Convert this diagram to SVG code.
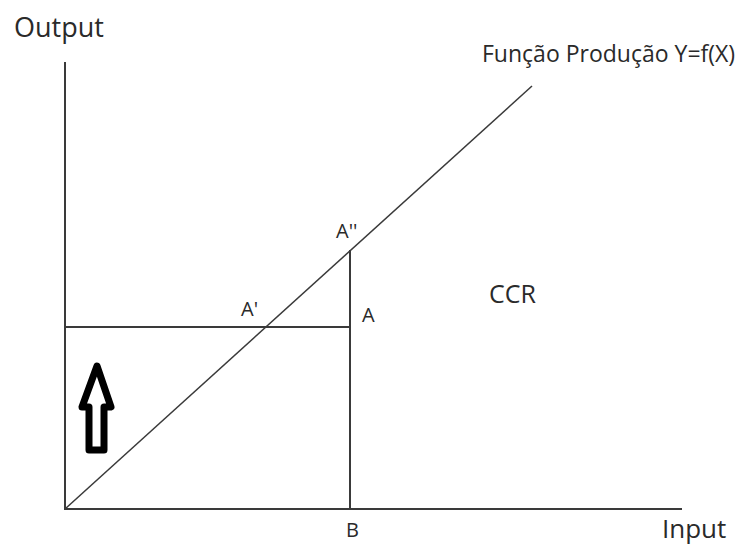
<svg xmlns="http://www.w3.org/2000/svg" width="744" height="545" viewBox="0 0 744 545">
<style>
.ln{stroke:#3a3a3a;stroke-width:2;fill:none}
.dg{stroke:#3a3a3a;stroke-width:1.5;fill:none}
.t{font-family:"Open Sans","Noto Sans",sans-serif;fill:#2a2a2a}
</style>
<rect width="744" height="545" fill="#fff"/>
<g id="connectors">
<line class="ln" x1="65" y1="62" x2="65" y2="510"/>
<line class="ln" x1="64" y1="509" x2="682" y2="509"/>
<line class="dg" x1="65" y1="509" x2="532" y2="86"/>
<line class="ln" x1="65" y1="327" x2="350" y2="327"/>
<line class="ln" x1="350" y1="250" x2="350" y2="509"/>
</g>
<g id="arrow">
<polygon points="97,366 111,407 104,407 104,450 89,450 89,407 82,407" fill="#fff" stroke="#000" stroke-width="7" stroke-linejoin="round"/>
</g>
<g id="label-output"><text class="t" x="14" y="37" font-size="27">Output</text></g>
<g id="label-input"><text class="t" x="662" y="538" font-size="26">Input</text></g>
<g id="label-funcao"><text class="t" x="482" y="62" font-size="23">Função Produção Y=f(X)</text></g>
<g id="label-A2"><text class="t" x="336" y="238" font-size="20">A''</text></g>
<g id="label-A1"><text class="t" x="241" y="316" font-size="20">A'</text></g>
<g id="label-A"><text class="t" x="362" y="322" font-size="20">A</text></g>
<g id="label-CCR"><text class="t" x="489" y="303" font-size="25">CCR</text></g>
<g id="label-B"><text class="t" x="346" y="537" font-size="20">B</text></g>
</svg>
